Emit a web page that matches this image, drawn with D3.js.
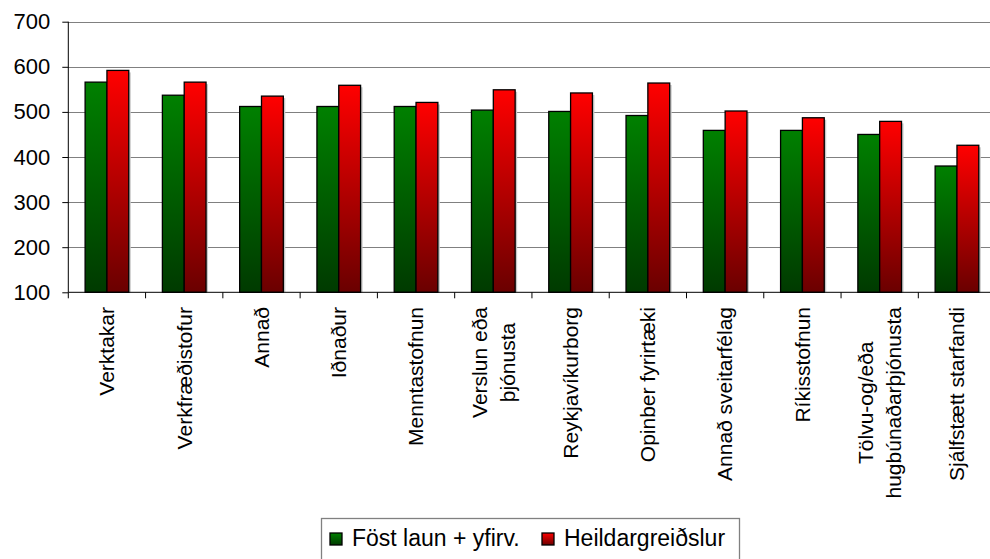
<!DOCTYPE html>
<html>
<head>
<meta charset="utf-8">
<script src="https://cdn.jsdelivr.net/npm/d3@7"></script>
<style>
  html, body { margin: 0; padding: 0; background: #fff; }
  svg { display: block; font-family: "Liberation Sans", Arial, sans-serif; }
</style>
</head>
<body>
<svg id="chart" width="990" height="559"></svg>
<script>
// categories (multi-line labels split with \n)
const categories = [
  'Verktakar', 'Verkfræðistofur', 'Annað', 'Iðnaður', 'Menntastofnun',
  'Verslun eða\nþjónusta', 'Reykjavíkurborg', 'Opinber fyrirtæki',
  'Annað sveitarfélag', 'Ríkisstofnun', 'Tölvu-og/eða\nhugbúnaðarþjónusta',
  'Sjálfstætt starfandi'
];
const seriesNames = ['Föst laun + yfirv.', 'Heildargreiðslur'];
const fastLaun = [566, 537, 512, 512, 512, 504, 501, 492, 459, 459, 450, 380];
const heildar  = [592, 566, 535, 559, 521, 549, 542, 564, 502, 487, 479, 426];
const yTicks = [100, 200, 300, 400, 500, 600, 700];

const width = 990, height = 559;
const plot = { left: 68.3, right: 995.6, top: 21.7, bottom: 292.3 };

const svg = d3.select('#chart');
const defs = svg.append('defs');

// vertical gradients (top bright -> bottom dark)
const grads = [
  { id: 'gGreen', top: '#008000', bottom: '#003a00' },
  { id: 'gRed', top: '#ff0000', bottom: '#6a0000' }
];
grads.forEach(g => {
  const lg = defs.append('linearGradient').attr('id', g.id)
    .attr('x1', 0).attr('y1', 0).attr('x2', 0).attr('y2', 1);
  lg.append('stop').attr('offset', '0%').attr('stop-color', g.top);
  lg.append('stop').attr('offset', '100%').attr('stop-color', g.bottom);
});

const data = categories.map((c, i) => ({ cat: c, values: [fastLaun[i], heildar[i]] }));

// scales
const x0 = d3.scaleBand().domain(categories).range([plot.left, plot.right]).padding(0);
const x1 = d3.scaleBand().domain([0, 1]).range([0, x0.bandwidth()])
  .paddingInner(0).paddingOuter(0.77);
const y = d3.scaleLinear().domain([100, 700]).range([plot.bottom, plot.top]);

// gridlines
svg.append('g').selectAll('line').data(yTicks.slice(1)).enter().append('line')
  .attr('x1', plot.left).attr('x2', width)
  .attr('y1', d => Math.round(y(d)) + 0.5).attr('y2', d => Math.round(y(d)) + 0.5)
  .attr('stroke', '#808080').attr('stroke-width', 1);

// bars
const groups = svg.append('g').selectAll('g').data(data).enter().append('g')
  .attr('transform', d => `translate(${x0(d.cat)},0)`);

// shadows
groups.selectAll('.shadow').data(d => d.values).enter().append('rect')
  .attr('class', 'shadow')
  .attr('x', (d, i) => x1(i) + 2)
  .attr('y', d => y(d) + 2)
  .attr('width', x1.bandwidth())
  .attr('height', d => y(100) - y(d) - 2)
  .attr('fill', '#c8c8c8');

groups.selectAll('.bar').data(d => d.values).enter().append('rect')
  .attr('class', 'bar')
  .attr('x', (d, i) => x1(i))
  .attr('y', d => y(d))
  .attr('width', x1.bandwidth())
  .attr('height', d => y(100) - y(d))
  .attr('fill', (d, i) => `url(#${grads[i].id})`)
  .attr('stroke', '#000').attr('stroke-width', 1.3);

// axes
const yAxis = d3.axisLeft(y).tickValues(yTicks).tickSize(6).tickPadding(12);
const gy = svg.append('g').attr('transform', `translate(${plot.left},0)`).call(yAxis);
gy.select('.domain').attr('d', `M0,${plot.top}V${plot.bottom}`).attr('stroke', '#000');
gy.selectAll('text').attr('font-size', 22).attr('fill', '#000')
  .attr('font-family', '"Liberation Sans", Arial, sans-serif');
gy.selectAll('line').attr('stroke', '#000');

const xAxis = d3.axisBottom(x0).tickValues(categories).tickSize(6).tickFormat('');
const gx = svg.append('g').attr('transform', `translate(0,${plot.bottom})`).call(xAxis);
gx.select('.domain').attr('d', `M${plot.left},0H${width}`).attr('stroke', '#000');
// ticks at band boundaries
gx.selectAll('.tick').attr('transform', d => `translate(${x0(d)},0)`);
gx.selectAll('line').attr('stroke', '#000');

// category labels, rotated
const labelTop = 307, lineH = 28;
const lg = svg.append('g').attr('font-size', 21).attr('fill', '#000');
categories.forEach(c => {
  const lines = c.split('\n');
  const cx = x0(c) + x0.bandwidth() / 2;
  const g = lg.append('g').attr('transform', `translate(${cx},${labelTop}) rotate(-90)`);
  const texts = lines.map((t, i) => g.append('text')
    .attr('y', (i - (lines.length - 1) / 2) * lineH)
    .attr('dy', '0.35em')
    .attr('text-anchor', 'middle')
    .text(t));
  const maxW = d3.max(texts, t => t.node().getComputedTextLength());
  texts.forEach(t => t.attr('x', -maxW / 2));
});

// legend
const legend = svg.append('g');
legend.append('rect')
  .attr('x', 321.5).attr('y', 518.5).attr('width', 418).attr('height', 50)
  .attr('fill', '#fff').attr('stroke', '#808080').attr('stroke-width', 1.3);
const legendItems = [
  { name: seriesNames[0], x: 330, grad: grads[0].id },
  { name: seriesNames[1], x: 542, grad: grads[1].id }
];
legendItems.forEach(it => {
  legend.append('rect')
    .attr('x', it.x).attr('y', 533).attr('width', 12).attr('height', 12)
    .attr('fill', `url(#${it.grad})`).attr('stroke', '#000').attr('stroke-width', 1.3);
  legend.append('text')
    .attr('x', it.x + 22).attr('y', 545.5)
    .attr('font-size', 23).attr('fill', '#000')
    .text(it.name);
});
</script>
</body>
</html>
